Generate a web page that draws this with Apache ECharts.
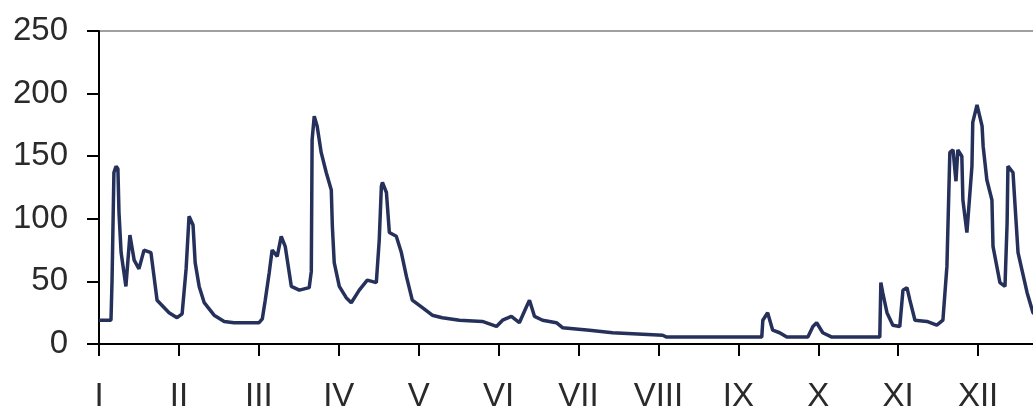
<!DOCTYPE html>
<html>
<head>
<meta charset="utf-8">
<script src="https://cdn.jsdelivr.net/npm/echarts@6/dist/echarts.min.js"></script>
<style>
html,body{margin:0;padding:0;background:#fff;}
#c{width:1033px;height:410px;}
</style>
</head>
<body>
<div id="c"></div>
<script>
// Month tick labels (one tick every 30 "days" on the axis)
var monthLabels = ['I','II','III','IV','V','VI','VII','VIII','IX','X','XI','XII'];
// Position along the year (days from start) of each reading
var days = [0,4.5,4.9,5.6,6.4,7.1,7.5,8.3,10.1,11.6,13.2,15.0,16.9,19.5,21.8,26.3,29.3,31.2,32.7,33.8,35.3,36.1,37.6,39.5,43.2,47.0,50.7,60.1,61.3,62.4,63.9,65.0,66.9,68.4,69.9,72.2,75.2,78.9,79.7,80.0,80.8,81.9,83.4,85.3,87.2,87.6,88.3,90.2,92.8,94.7,97.7,100.7,104.1,105.2,106.0,106.4,107.9,109.0,111.6,113.5,115.4,117.6,121.4,125.1,128.9,135.3,143.9,149.2,151.5,154.8,157.8,160.5,161.6,163.5,166.5,171.7,174.0,184.1,192.8,211.6,213.1,248.8,249.2,251.0,252.9,255.5,258.2,266.1,268.0,269.4,271.7,275.1,293.1,293.5,294.2,295.8,298.0,300.6,301.8,303.3,304.4,306.3,310.8,314.5,316.8,318.3,319.4,320.6,321.7,322.4,323.9,324.3,325.8,327.7,328.0,329.6,331.5,331.9,333.3,335.2,335.6,338.2,340.1,340.9,341.2,343.1,343.9,345.0,348.4,350.6,355,360];
// Values
var values = [19,19,51,137,142,140,105,73,46,87,67,60,75,73,35,25,21,24,60,102,95,65,46,33,23,18,17,17,20,35,57,75,70,86,78,46,43,45,58,163,182,174,153,137,123,94,65,46,37,33,43,51,49,83,126,129,121,89,86,73,54,35,29,23,21,19,18,14,19,22,17,30,35,22,19,17,13,11,9,7,5.5,5.5,19,25,11,9,5.5,5.5,14,17,9,5.5,5.5,49,41,25,15,14,43,45,35,19,18,15,19,62,153,155,130,155,150,115,89,142,177,191,174,158,131,115,78,49,46,97,142,137,110,73,41,25,18,15];
// Y axis ticks
var yTicks = {min:0, max:250, step:50};

var seriesData = days.map(function(d,i){ return [d, values[i]]; });
var fontFam = '"Liberation Sans",Arial,sans-serif';

var chart = echarts.init(document.getElementById('c'), null, {renderer:'canvas'});
chart.setOption({
  animation:false,
  backgroundColor:'#fff',
  grid:{left:99, top:31, height:313, width:959, outerBoundsMode:'none', containLabel:false, show:true, borderColor:'#a0a0a0', borderWidth:2, backgroundColor:'transparent'},
  xAxis:{
    type:'value', min:0, max:360, interval:30,
    axisLine:{show:true, onZero:false, lineStyle:{color:'#000', width:2}},
    axisTick:{show:true, length:12, lineStyle:{color:'#000', width:2}},
    splitLine:{show:false},
    axisLabel:{
      margin:36, color:'#2a2a2a', fontSize:33, fontFamily:fontFam,
      formatter:function(v){ var i=Math.round(v/30); return monthLabels[i]||''; }
    }
  },
  yAxis:{
    type:'value', min:yTicks.min, max:yTicks.max, interval:yTicks.step,
    axisLine:{show:true, lineStyle:{color:'#000', width:2}},
    axisTick:{show:true, length:12, lineStyle:{color:'#000', width:2}},
    splitLine:{show:false},
    axisLabel:{margin:31, color:'#2a2a2a', fontSize:33, fontFamily:fontFam}
  },
  series:[{
    type:'line', data:seriesData, showSymbol:false, smooth:false,
    lineStyle:{color:'#25315a', width:3.5},
    clip:true
  }]
});
</script>
</body>
</html>
